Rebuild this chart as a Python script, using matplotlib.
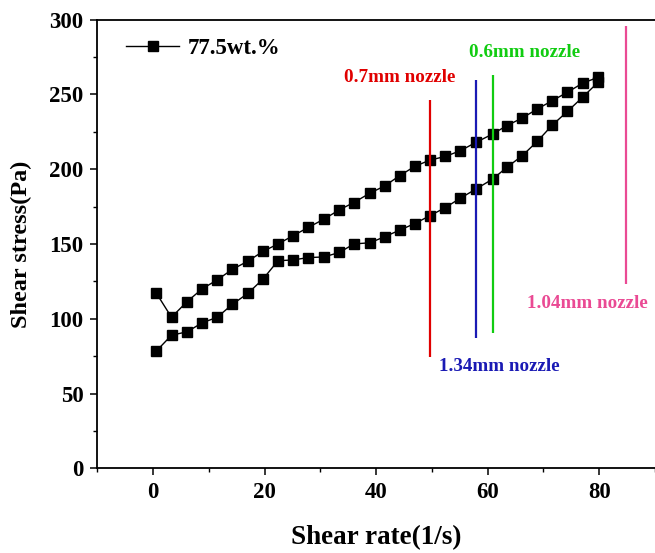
import matplotlib
matplotlib.use("Agg")
import matplotlib.pyplot as plt
from matplotlib.ticker import MultipleLocator

# ---- data ----
shear_rate = [0.6, 3.3, 6.1, 8.8, 11.5, 14.2, 17.0, 19.7, 22.4, 25.1,
              27.8, 30.6, 33.4, 36.0, 38.9, 41.5, 44.2, 46.9, 49.6, 52.4,
              55.1, 57.9, 60.9, 63.4, 66.2, 68.9, 71.6, 74.3, 77.0, 79.8]
stress_up = [78.5, 89.0, 91.3, 97.3, 101.0, 109.6, 117.0, 126.5, 138.8, 139.3,
             140.9, 141.3, 144.3, 150.0, 150.8, 154.8, 159.2, 163.6, 168.8, 174.3,
             180.6, 186.7, 193.4, 201.1, 209.0, 218.6, 229.5, 238.6, 248.0, 258.1]
stress_down = [117.0, 101.0, 111.5, 120.0, 126.0, 133.0, 138.5, 145.0, 150.0, 155.5,
               161.0, 166.5, 172.8, 177.7, 184.0, 188.7, 195.6, 201.8, 206.0, 208.5,
               212.3, 217.9, 223.5, 229.0, 234.2, 240.2, 245.8, 251.4, 257.4, 261.4]
series_label = "77.5wt.%"

nozzle_labels = ["0.7mm nozzle", "1.34mm nozzle", "0.6mm nozzle", "1.04mm nozzle"]
nozzle_x = [49.6, 57.9, 61.0, 84.8]
nozzle_ymin = [74.3, 87.3, 90.2, 123.5]
nozzle_ymax = [246.5, 259.7, 262.6, 295.4]
nozzle_text_x = [44.3, 62.1, 66.6, 77.8]
nozzle_text_y = [261.4, 68.3, 278.2, 110.0]
nozzle_colors = ["#e00000", "#1a1ab4", "#11cc11", "#ea4a94"]

x_label = "Shear rate(1/s)"
y_label = "Shear stress(Pa)"

plt.rcParams['font.family'] = ['Liberation Serif', 'DejaVu Serif']
plt.rcParams['font.weight'] = 'bold'

fig = plt.figure(figsize=(6.55, 5.53), dpi=100)
ax = fig.add_axes([0.1486, 0.153, 1.0 - 0.1486, 0.9647 - 0.153])

# one loop: up-sweep then down-sweep
xs = shear_rate + shear_rate[::-1]
ys = stress_up + stress_down[::-1]
ax.plot(xs, ys, color='black', lw=1.0, marker='s', markersize=7,
        markerfacecolor='black', markeredgecolor='black', label=series_label)

for xv, y0, y1, c in zip(nozzle_x, nozzle_ymin, nozzle_ymax, nozzle_colors):
    ax.vlines(xv, y0, y1, colors=c, lw=1.6)
for t, tx, ty, c in zip(nozzle_labels, nozzle_text_x, nozzle_text_y, nozzle_colors):
    ax.text(tx, ty, t, color=c, fontsize=13.7, fontweight='bold',
            ha='center', va='center')

ax.set_xlim(-10, 90)
ax.set_ylim(0, 300)
ax.xaxis.set_major_locator(MultipleLocator(20))
ax.xaxis.set_minor_locator(MultipleLocator(10))
ax.yaxis.set_major_locator(MultipleLocator(50))
ax.yaxis.set_minor_locator(MultipleLocator(25))
ax.set_xticks([0, 20, 40, 60, 80])
ax.tick_params(axis='both', which='major', direction='out', length=5, width=1.1,
               labelsize=16.5, pad=5)
ax.tick_params(axis='both', which='minor', direction='out', length=3, width=1.0)
ax.tick_params(top=False, right=False, which='both')
for lab in ax.get_xticklabels() + ax.get_yticklabels():
    lab.set_fontweight('bold')

ax.spines['right'].set_visible(False)
for s in ['left', 'bottom', 'top']:
    ax.spines[s].set_linewidth(1.3)

ax.set_xlabel(x_label, fontsize=19.5, fontweight='bold', labelpad=16)
ax.set_ylabel(y_label, fontsize=17.5, fontweight='bold', labelpad=12)

leg = ax.legend(loc='upper left', bbox_to_anchor=(0.052, 0.958), frameon=False,
                handlelength=2.3, handletextpad=0.4,
                borderpad=0, borderaxespad=0, prop={'weight': 'bold', 'size': 16.5})

fig.savefig("out.png", dpi=100)
